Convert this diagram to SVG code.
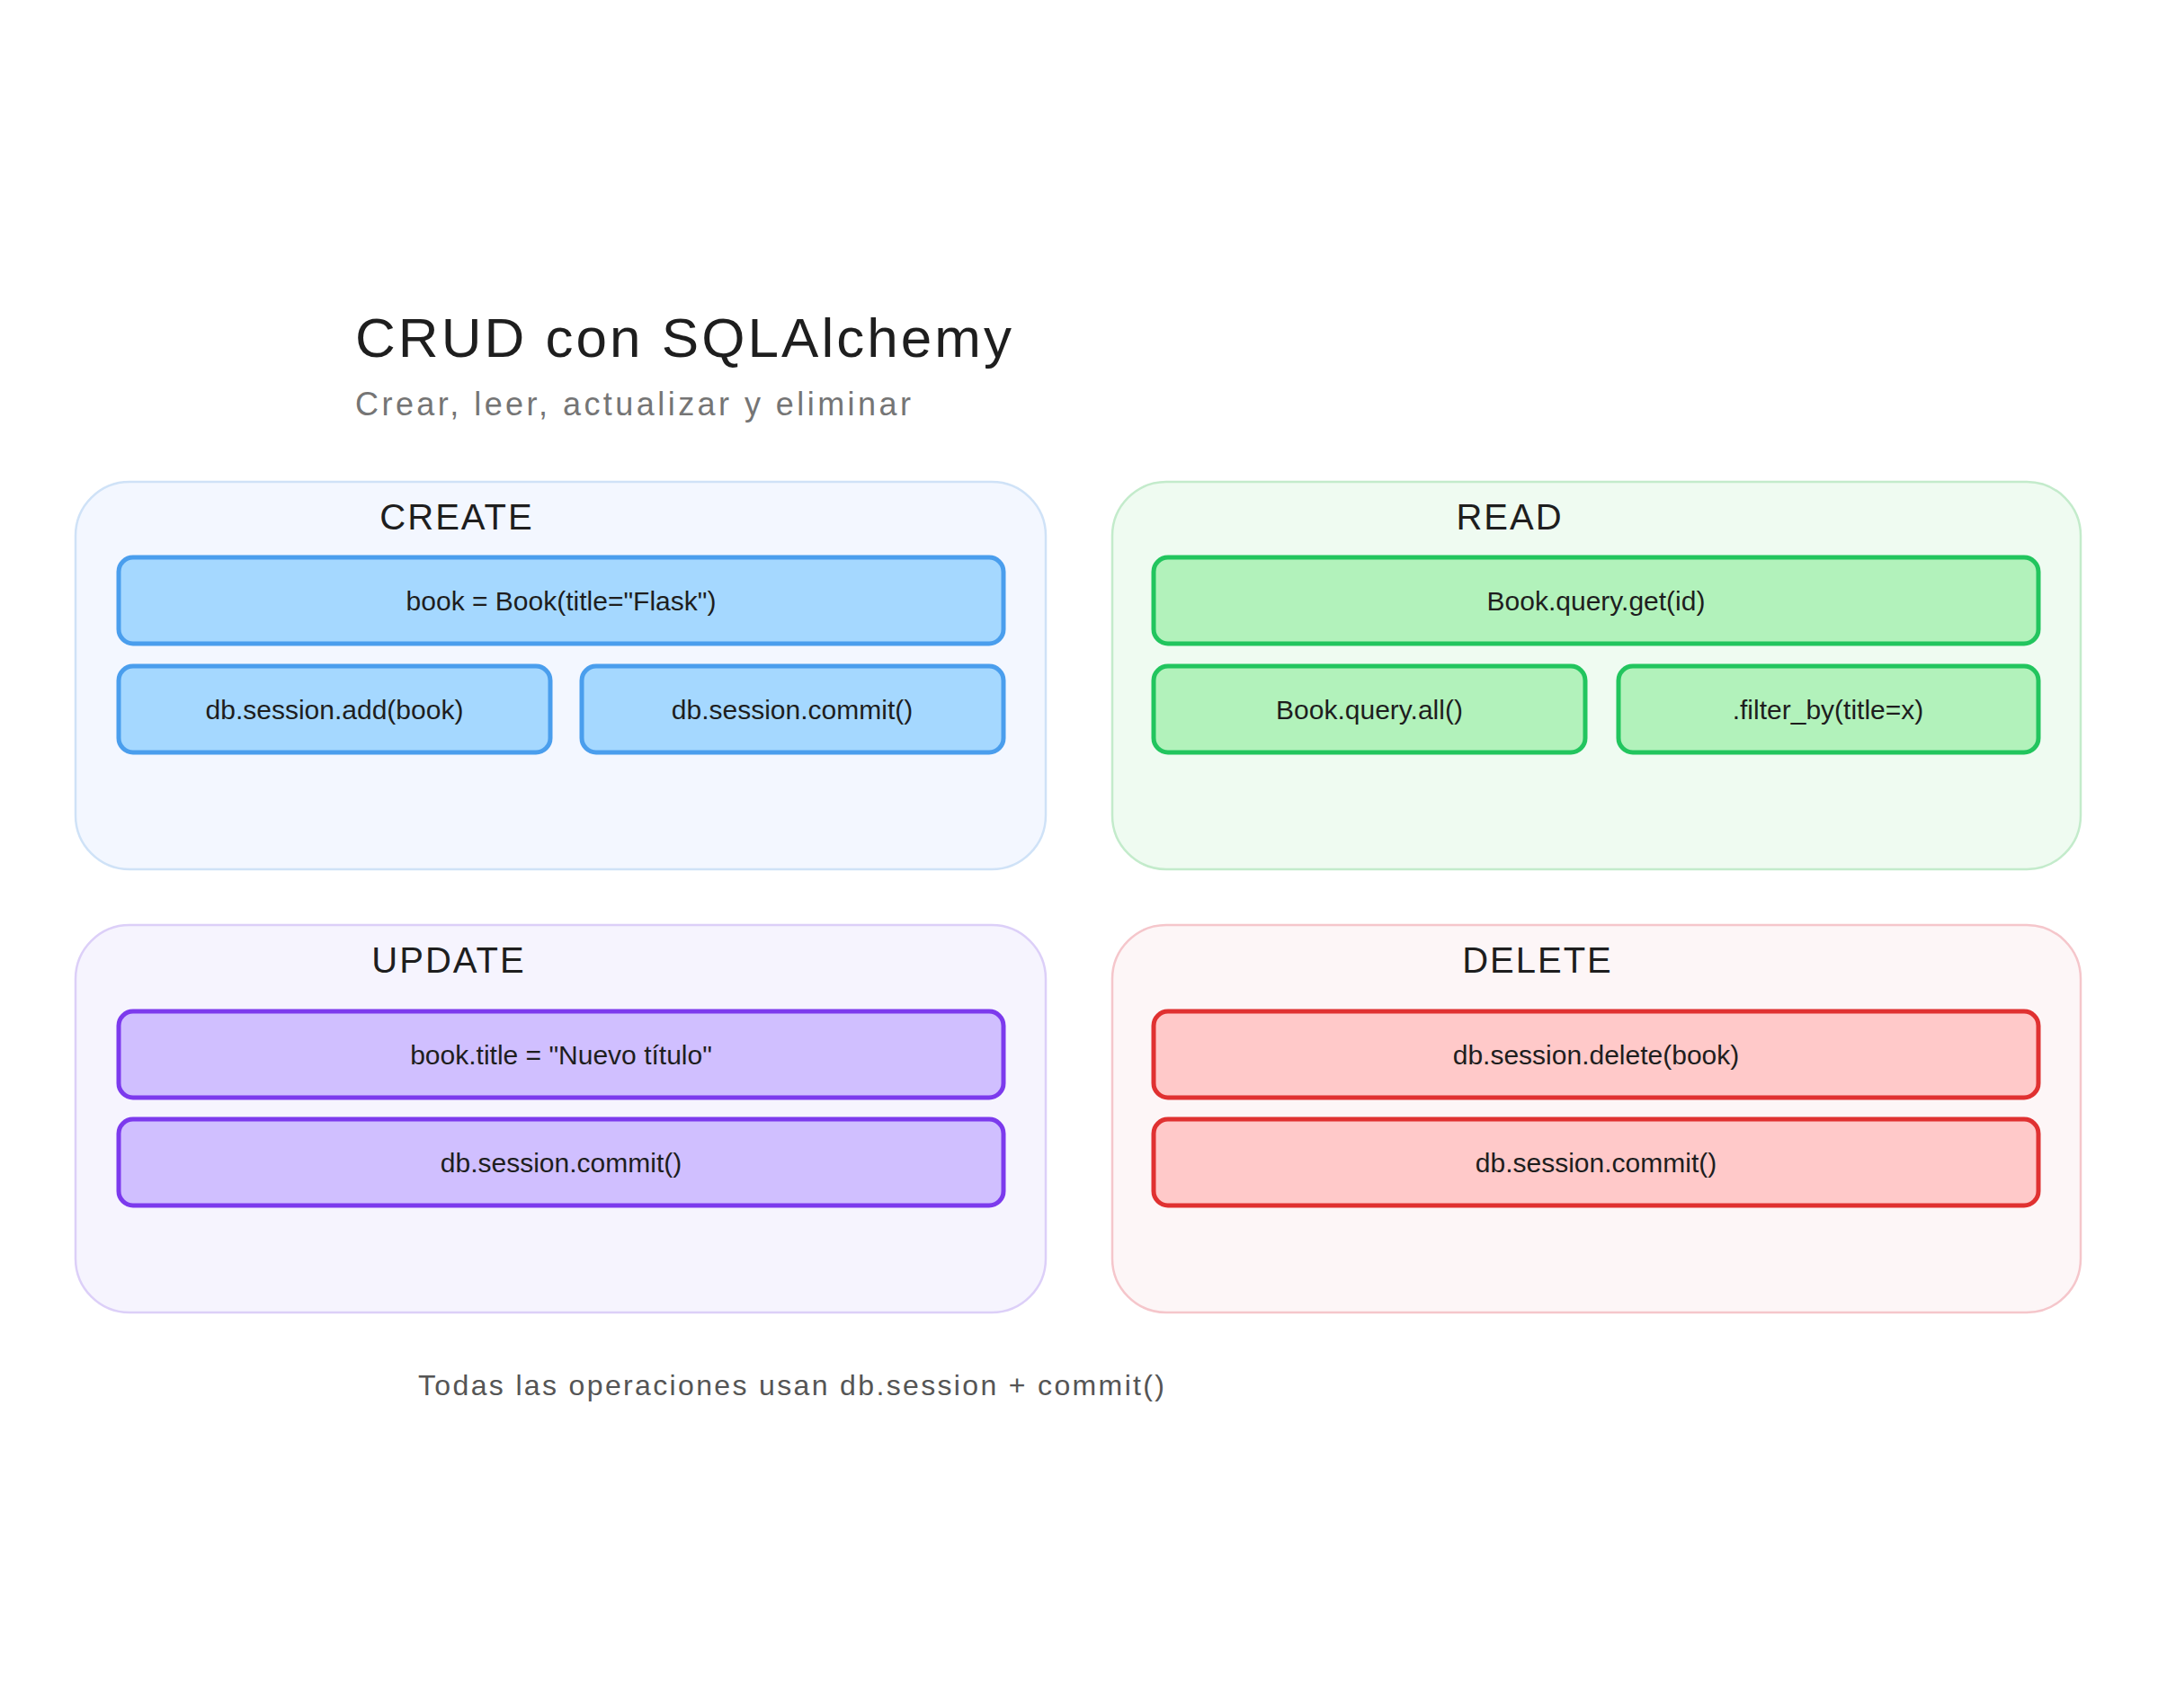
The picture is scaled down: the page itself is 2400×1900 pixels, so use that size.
<svg xmlns="http://www.w3.org/2000/svg" width="2400" height="1900" viewBox="0 0 2400 1900">
<style>
text{font-family:"Liberation Sans",Arial,sans-serif;fill:#1e1e1e;text-anchor:middle;dominant-baseline:central}
.panel{stroke-width:2.5}
.box{stroke-width:5}
.lbl{font-size:40px;letter-spacing:2px}
.bt{font-size:30px}
.c{fill:#a5d8ff;stroke:#4a9eed}.r{fill:#b2f2bb;stroke:#22c55e}.u{fill:#d0bfff;stroke:#7c3aed}.d{fill:#ffc9c9;stroke:#e03131}
</style>
<rect width="2400" height="1900" fill="#ffffff"/>
<g id="title"><text x="395" y="375" textLength="730" lengthAdjust="spacing" style="font-size:62px;text-anchor:start">CRUD con SQLAlchemy</text>
<text x="395" y="449" textLength="618" lengthAdjust="spacing" style="font-size:36px;text-anchor:start;fill:#757575">Crear, leer, actualizar y eliminar</text></g>
<g id="create">
<rect class="panel" x="84" y="536" width="1079" height="431" rx="60" fill="#f3f7ff" stroke="#cfe2f7"/>
<text class="lbl" x="508" y="575">CREATE</text>
<rect class="box c" x="132" y="620" width="984" height="96" rx="16"/><text class="bt" x="624" y="668">book = Book(title="Flask")</text>
<rect class="box c" x="132" y="741" width="480" height="96" rx="16"/><text class="bt" x="372" y="789">db.session.add(book)</text>
<rect class="box c" x="647" y="741" width="469" height="96" rx="16"/><text class="bt" x="881" y="789">db.session.commit()</text>
</g>
<g id="read">
<rect class="panel" x="1237" y="536" width="1077" height="431" rx="60" fill="#effbf1" stroke="#c3ebcb"/>
<text class="lbl" x="1679" y="575">READ</text>
<rect class="box r" x="1283" y="620" width="984" height="96" rx="16"/><text class="bt" x="1775" y="668">Book.query.get(id)</text>
<rect class="box r" x="1283" y="741" width="480" height="96" rx="16"/><text class="bt" x="1523" y="789">Book.query.all()</text>
<rect class="box r" x="1800" y="741" width="467" height="96" rx="16"/><text class="bt" x="2033" y="789">.filter_by(title=x)</text>
</g>
<g id="update">
<rect class="panel" x="84" y="1029" width="1079" height="431" rx="60" fill="#f6f4fe" stroke="#dccff8"/>
<text class="lbl" x="499" y="1068">UPDATE</text>
<rect class="box u" x="132" y="1125" width="984" height="96" rx="16"/><text class="bt" x="624" y="1173">book.title = "Nuevo título"</text>
<rect class="box u" x="132" y="1245" width="984" height="96" rx="16"/><text class="bt" x="624" y="1293">db.session.commit()</text>
</g>
<g id="delete">
<rect class="panel" x="1237" y="1029" width="1077" height="431" rx="60" fill="#fdf6f7" stroke="#f5c6cb"/>
<text class="lbl" x="1710" y="1068">DELETE</text>
<rect class="box d" x="1283" y="1125" width="984" height="96" rx="16"/><text class="bt" x="1775" y="1173">db.session.delete(book)</text>
<rect class="box d" x="1283" y="1245" width="984" height="96" rx="16"/><text class="bt" x="1775" y="1293">db.session.commit()</text>
</g>
<g id="connectors"></g>
<g id="footer"><text x="880" y="1541" textLength="830" lengthAdjust="spacing" style="font-size:32px;fill:#555555">Todas las operaciones usan db.session + commit()</text></g>
</svg>
